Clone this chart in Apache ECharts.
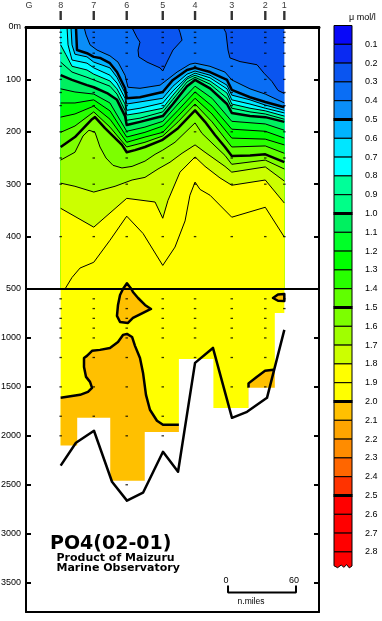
<!DOCTYPE html>
<html>
<head>
<meta charset="utf-8">
<script src="https://cdn.jsdelivr.net/npm/echarts@6.0.0/dist/echarts.min.js"></script>
<style>
html,body{margin:0;padding:0;background:#fff;}
#chart{width:382px;height:621px;}
</style>
</head>
<body>
<div id="chart"></div>
<script>
// ---------------- DATA (distance in n.miles from left frame, depth in m) ----------------
const stationNames = ['8', '7', '6', '5', '4', '3', '2', '1'];
const stationNm = [30.6, 59.8, 88.9, 120.7, 149.2, 181.6, 211.2, 228.0];
const coastName = 'G';
const coastNm = 2.6;
const stationMaxDepth = [2100, 1816, 2460, 1960, 1215, 1715, 1510, 745];
const upperSampleDepths = [10, 20, 30, 50, 75, 100, 125, 150, 200, 250, 300, 400];
const lowerSampleDepths = [600, 700, 800, 900, 1000, 1200, 1500, 1800, 2000, 2500];
const upperDepthTicks = [0, 100, 200, 300, 400, 500];
const lowerDepthTicks = [1000, 1500, 2000, 2500, 3000, 3500];
const scaleBarNm = [0, 60];

// colour scale (PO4, umol/l)
const bandLow = [0.0, 0.1, 0.2, 0.3, 0.4, 0.5, 0.6, 0.7, 0.8, 0.9, 1.0, 1.1, 1.2, 1.3, 1.4,
                 1.5, 1.6, 1.7, 1.8, 1.9, 2.0, 2.1, 2.2, 2.3, 2.4, 2.5, 2.6, 2.7, 2.8];
const bandColor = ['#0808F8', '#0A2AF2', '#0A55F0', '#0A6EF5', '#0A8EF8', '#00B4FF', '#00E6FF',
                   '#00FFFF', '#00FF99', '#00FF88', '#00F060', '#00FF28', '#00FF00', '#28FF00',
                   '#60FF00', '#7CFF00', '#A0FF00', '#CCFF00', '#FFFF00', '#FFFF00', '#FFC000',
                   '#FFA500', '#FF8C00', '#FF6600', '#FF3300', '#FF0000', '#FF0000', '#FF0000', '#FF0000'];
const thickLevels = [0.5, 1.0, 1.5, 2.0, 2.5];

// isolines of the upper (0-500 m) section: [distance, depth]
const isoLevels = [0.3, 0.4, 0.5, 0.6, 0.7, 0.8, 0.9, 1.0, 1.1, 1.2, 1.3, 1.4, 1.5, 1.6, 1.7, 1.8, 1.9];
const iso03 = [[30.6,0],[93.3,0],[97.7,19],[100.6,29],[98.9,44],[99.5,57],[106.8,67],[118.3,78],[120.7,84],[124.4,67],[129.7,44],[137.7,25],[135.9,10],[134.2,0],[173.9,0],[176.5,11],[178.3,44],[180.0,59],[188.9,66],[203.9,72],[210.0,88],[217.1,104],[222.4,121],[228.0,127]];
const iso04 = [[30.6,0],[51.2,0],[53.0,15],[56.5,34],[62.7,44],[74.1,55],[81.2,67],[87.4,92],[90.0,115],[100.6,117],[118.3,111],[124.4,101],[133.3,86],[144.7,71],[149.2,69],[162.4,75],[175.6,86],[181.6,101],[197.7,118],[211.2,128],[228.0,145]];
const iso05 = [[30.6,0],[44.1,0],[45.0,44],[53.8,50],[59.8,57],[65.3,59],[74.1,69],[80.3,86],[87.4,117],[88.9,136],[100.6,134],[120.7,124],[129.7,101],[142.1,82],[149.2,78],[162.4,86],[177.4,101],[181.6,120],[197.7,134],[211.2,143],[228.0,153]];
const iso06 = [[30.6,0],[39.7,0],[40.6,34],[43.2,52],[53.8,57],[59.8,67],[74.1,78],[80.3,96],[87.4,126],[88.9,147],[100.6,143],[120.7,136],[129.7,113],[142.1,90],[149.2,84],[162.4,92],[177.4,111],[181.6,130],[197.7,139],[211.2,149],[228.0,159]];
const iso07 = [[30.6,0],[36.2,0],[37.1,34],[40.6,63],[53.8,69],[59.8,78],[74.1,92],[80.3,107],[87.4,136],[88.9,159],[100.6,155],[120.7,145],[129.7,122],[142.1,96],[149.2,88],[162.4,97],[177.4,118],[181.6,139],[197.7,147],[211.2,155],[228.0,164]];
const iso08 = [[30.6,34],[35.3,53],[40.6,75],[53.8,82],[59.8,90],[74.1,103],[80.3,118],[87.4,147],[88.9,168],[100.6,164],[120.7,155],[129.7,130],[142.1,99],[149.2,92],[162.4,103],[177.4,126],[181.6,147],[197.7,155],[211.2,160],[228.0,170]];
const iso09 = [[30.6,67],[40.6,86],[53.8,96],[59.8,101],[74.1,113],[80.3,128],[87.4,159],[88.9,178],[100.6,174],[120.7,162],[129.7,138],[142.1,105],[149.2,96],[162.4,109],[177.4,136],[181.6,155],[197.7,162],[211.2,166],[228.0,176]];
const iso10 = [[30.6,92],[40.6,101],[53.8,111],[59.8,115],[71.5,126],[80.3,139],[87.4,170],[88.9,187],[100.6,181],[120.7,170],[129.7,147],[142.1,113],[149.2,101],[162.4,117],[177.4,147],[181.6,164],[197.7,170],[211.2,172],[228.0,181]];
const iso11 = [[30.6,118],[43.2,124],[59.8,128],[74.1,145],[88.9,199],[105.0,191],[120.7,180],[134.2,147],[149.2,113],[164.2,136],[181.6,180],[211.2,185],[228.0,197]];
const iso12 = [[30.6,145],[43.2,145],[59.8,139],[74.1,160],[88.9,210],[105.0,201],[120.7,189],[134.2,159],[149.2,124],[164.2,151],[181.6,195],[211.2,199],[228.0,212]];
const iso13 = [[30.6,172],[43.2,166],[59.8,151],[74.1,176],[88.9,220],[105.0,210],[120.7,201],[134.2,170],[149.2,136],[164.2,166],[181.6,212],[211.2,214],[228.0,225]];
const iso14 = [[30.6,201],[43.2,189],[59.8,162],[74.1,191],[88.9,229],[105.0,220],[120.7,208],[134.2,181],[149.2,147],[164.2,181],[181.6,229],[211.2,227],[228.0,241]];
const iso15 = [[30.6,229],[43.2,210],[58.3,176],[60.9,172],[69.7,193],[84.7,225],[88.9,239],[96.2,235],[105.0,229],[120.0,216],[134.2,193],[149.2,159],[158.0,181],[166.8,206],[175.6,229],[181.6,246],[197.7,245],[211.2,243],[228.0,258]];
const iso16 = [[30.6,254],[43.2,239],[50.3,208],[55.6,197],[60.9,201],[65.3,229],[70.6,250],[76.8,264],[84.7,269],[93.6,266],[105.0,256],[113.9,243],[120.7,235],[131.5,220],[149.2,183],[155.3,203],[166.8,227],[175.6,245],[181.6,262],[211.2,254],[228.0,271]];
const iso17 = [[30.6,298],[43.2,304],[59.8,315],[78.6,304],[93.6,292],[105.0,287],[116.5,271],[127.1,258],[137.7,241],[149.2,225],[158.0,239],[175.6,266],[181.6,277],[211.2,267],[228.0,294]];
const iso18 = [[30.6,346],[59.8,382],[88.9,327],[113.9,334],[120.7,365],[125.3,331],[135.9,277],[149.2,248],[158.0,266],[171.2,288],[181.6,302],[211.2,292],[228.0,336]];
const iso19 = [[34.4,500],[40.6,478],[47.7,460],[59.8,449],[74.1,407],[88.9,361],[103.3,394],[120.7,455],[131.5,420],[140.4,370],[144.7,321],[149.2,296],[153.6,310],[162.4,321],[181.6,363],[211.2,344],[228.0,401]];

// 2.0 contours of the deep section
const blobMain = [[30.6,1612],[47.7,1581],[54.7,1551],[58.3,1510],[56.5,1449],[53.0,1398],[51.2,1296],[51.2,1204],[53.8,1183],[58.3,1132],[65.3,1122],[74.1,1102],[81.2,1041],[85.6,969],[89.1,959],[93.6,990],[96.2,1081],[100.6,1204],[103.3,1357],[105.9,1581],[109.4,1734],[115.6,1846],[120.9,1887],[135.9,1887]];
const blobSt6 = [[89.1,489],[93.0,500],[94.4,531],[98.9,592],[105.0,663],[110.3,704],[103.3,745],[94.4,796],[90.0,847],[83.0,837],[80.3,775],[81.2,663],[83.0,561],[85.6,500]];
const blobSt1 = [[228.0,551],[222.4,556],[218.0,592],[222.4,620],[228.0,623]];
const blobSt2 = [[196.4,1510],[196.4,1464],[203.6,1398],[211.0,1336],[218.3,1326],[220.7,1336]];
const bottomLine = [[30.6,2305],[44.1,2071],[60.0,1948],[75.9,2469],[89.1,2662],[103.3,2581],[120.9,2163],[134.2,2367],[149.2,1255],[165.0,1102],[181.8,1816],[195.1,1755],[212.7,1612],[228.0,918]];

// ---------------- BUILD ----------------
const isoLines = [iso03, iso04, iso05, iso06, iso07, iso08, iso09, iso10, iso11, iso12, iso13, iso14, iso15, iso16, iso17, iso18, iso19];
const SPLIT = 500, BOTTOM = 3800, XMAX = 258.6;
const xL = stationNm[0], xR = stationNm[stationNm.length - 1];
const colorOf = v => bandColor[Math.round(v * 10)];
const isThick = v => thickLevels.some(t => Math.abs(t - v) < 1e-6);

const upperItems = [];
upperItems.push({ t: 'fill', pts: [[xL, 0], [xR, 0], [xR, SPLIT], [xL, SPLIT]], fill: bandColor[Math.round(isoLevels[0] * 10) - 1] });
isoLevels.forEach((lv, k) => upperItems.push({ t: 'fill', pts: isoLines[k].concat([[xR, SPLIT], [xL, SPLIT]]), fill: colorOf(lv) }));
isoLevels.forEach((lv, k) => upperItems.push({ t: 'line', pts: isoLines[k], w: isThick(lv) ? 2.5 : 1 }));
upperItems.push({ t: 'fill', pts: blobSt6, fill: colorOf(2.0), stroke: '#000', w: 2.5 });

const lowerItems = [];
lowerItems.push({ t: 'fill', pts: [[xL, SPLIT], [xR, SPLIT], [xR, BOTTOM], [xL, BOTTOM]], fill: colorOf(1.9) });
lowerItems.push({ t: 'fill', pts: blobMain.concat([[blobMain[blobMain.length - 1][0], BOTTOM], [xL, BOTTOM]]), fill: colorOf(2.0) });
lowerItems.push({ t: 'fill', pts: blobSt2.concat([[blobSt2[blobSt2.length - 1][0], BOTTOM], [blobSt2[0][0], BOTTOM]]), fill: colorOf(2.0) });
lowerItems.push({ t: 'fill', pts: blobSt6, fill: colorOf(2.0), stroke: '#000', w: 2.5 });
lowerItems.push({ t: 'fill', pts: blobSt1, fill: colorOf(2.0), stroke: '#000', w: 2.5 });
lowerItems.push({ t: 'line', pts: blobMain, w: 2.5 });
lowerItems.push({ t: 'line', pts: blobSt2, w: 2.5 });
// no-data mask below deepest sample of each station column
const edges = [xL - 1];
for (let i = 1; i < stationNm.length; i++) edges.push((stationNm[i - 1] + stationNm[i]) / 2);
edges.push(xR + 1);
const mask = [[xL - 1, BOTTOM + 10]];
stationMaxDepth.forEach((d, i) => { mask.push([edges[i], d]); mask.push([edges[i + 1], d]); });
mask.push([xR + 1, BOTTOM + 10]);
lowerItems.push({ t: 'fill', pts: mask, fill: '#ffffff' });
lowerItems.push({ t: 'line', pts: bottomLine, w: 2.5 });

function renderFrom(items) {
  return function (params, api) {
    const it = items[params.dataIndex];
    const pts = it.pts.map(p => api.coord(p));
    if (it.t === 'fill') {
      return { type: 'polygon', shape: { points: pts },
        style: { fill: it.fill, stroke: it.stroke || null, lineWidth: it.w || 0, lineJoin: 'round' } };
    }
    return { type: 'polyline', shape: { points: pts },
      style: { fill: null, stroke: '#000', lineWidth: it.w, lineJoin: 'round' } };
  };
}

// colour bar items
const cbItems = bandLow.map((lo, i) => ({ lo: lo, hi: i + 1 < bandLow.length ? bandLow[i + 1] : null, color: bandColor[i] }));
function renderColorbar(params, api) {
  const it = cbItems[params.dataIndex];
  const children = [];
  if (it.hi !== null) {
    const a = api.coord([0, it.lo]), b = api.coord([1, it.hi]);
    children.push({ type: 'rect', shape: { x: a[0], y: a[1], width: b[0] - a[0], height: b[1] - a[1] },
      style: { fill: it.color, stroke: '#000', lineWidth: 1 } });
  } else {
    const wave = [[1, it.lo + 0.075], [0.85, it.lo + 0.085], [0.7, it.lo + 0.068], [0.55, it.lo + 0.082], [0.4, it.lo + 0.07], [0.2, it.lo + 0.084], [0, it.lo + 0.074]];
    const pts = [[0, it.lo], [1, it.lo]].concat(wave).map(p => api.coord(p));
    children.push({ type: 'polygon', shape: { points: pts }, style: { fill: it.color, stroke: '#000', lineWidth: 1 } });
  }
  if (isThick(it.lo)) {
    const a = api.coord([0, it.lo]), b = api.coord([1, it.lo]);
    children.push({ type: 'line', shape: { x1: a[0] - 0.5, y1: a[1], x2: b[0] + 0.5, y2: b[1] }, style: { stroke: '#000', lineWidth: 3 } });
  }
  return { type: 'group', children: children };
}

// sample dots
const upperDots = [], lowerDots = [];
stationNm.forEach((x, i) => {
  upperSampleDepths.forEach(d => upperDots.push([x, d]));
  lowerSampleDepths.forEach(d => { if (d <= stationMaxDepth[i] + 40) lowerDots.push([x, d]); });
});

const stationPts = stationNm.map((x, i) => ({ name: stationNames[i], value: [x, 0.5] }));
stationPts.unshift({ name: coastName, value: [coastNm, 0.5], itemStyle: { color: 'rgba(0,0,0,0)' } });

const sbX = 178.3, sbTop = 3530, sbBase = 3600;
const scaleBarData = [[sbX + scaleBarNm[0], sbTop], [sbX + scaleBarNm[0], sbBase], [sbX + scaleBarNm[1], sbBase], [sbX + scaleBarNm[1], sbTop]];

const FONT = 'Liberation Sans';
const axLine = { show: true, onZero: false, lineStyle: { color: '#000', width: 2 } };
const axLineTop = { show: true, onZero: false, lineStyle: { color: '#000', width: 3 } };
const noSplit = { show: false };
const G = { outerBoundsMode: 'none', containLabel: false };

const chart = echarts.init(document.getElementById('chart'), null, { renderer: 'canvas' });
chart.setOption({
  animation: false,
  backgroundColor: '#ffffff',
  textStyle: { fontFamily: FONT },
  grid: [
    Object.assign({ left: 26, top: 27, width: 293, height: 262 }, G),
    Object.assign({ left: 26, top: 289, width: 293, height: 323 }, G),
    Object.assign({ left: 334, top: 25.5, width: 18, height: 545.2 }, G),
    Object.assign({ left: 26, top: 11, width: 293, height: 9 }, G)
  ],
  xAxis: [
    { gridIndex: 0, type: 'value', min: 0, max: XMAX, position: 'top', axisLine: axLineTop, axisTick: { show: false }, axisLabel: { show: false }, splitLine: noSplit, z: 10 },
    { gridIndex: 0, type: 'value', min: 0, max: XMAX, position: 'bottom', axisLine: axLine, axisTick: { show: false }, axisLabel: { show: false }, splitLine: noSplit, z: 10 },
    { gridIndex: 1, type: 'value', min: 0, max: XMAX, position: 'bottom', axisLine: axLine, axisTick: { show: false }, axisLabel: { show: false }, splitLine: noSplit, z: 10 },
    { gridIndex: 2, type: 'value', min: 0, max: 1, show: false },
    { gridIndex: 3, type: 'value', min: 0, max: XMAX, show: false }
  ],
  yAxis: [
    { gridIndex: 0, type: 'value', inverse: true, min: 0, max: SPLIT, interval: 100, position: 'left', axisLine: axLine,
      axisTick: { show: true, inside: true, length: 5, customValues: upperDepthTicks, lineStyle: { color: '#000', width: 2 } },
      axisLabel: { customValues: upperDepthTicks, formatter: v => (v === 0 ? '0m' : String(v)), color: '#000', fontSize: 9, margin: 5, fontFamily: FONT },
      splitLine: noSplit, z: 10 },
    { gridIndex: 0, type: 'value', inverse: true, min: 0, max: SPLIT, interval: 100, position: 'right', axisLine: axLine,
      axisTick: { show: true, inside: true, length: 5, customValues: upperDepthTicks, lineStyle: { color: '#000', width: 2 } },
      axisLabel: { show: false }, splitLine: noSplit, z: 10 },
    { gridIndex: 1, type: 'value', inverse: true, min: SPLIT, max: BOTTOM, interval: 500, position: 'left', axisLine: axLine,
      axisTick: { show: true, inside: true, length: 5, customValues: lowerDepthTicks, lineStyle: { color: '#000', width: 2 } },
      axisLabel: { customValues: lowerDepthTicks, formatter: v => String(v), color: '#000', fontSize: 9, margin: 5, fontFamily: FONT },
      splitLine: noSplit, z: 10 },
    { gridIndex: 1, type: 'value', inverse: true, min: SPLIT, max: BOTTOM, interval: 500, position: 'right', axisLine: axLine,
      axisTick: { show: true, inside: true, length: 5, customValues: lowerDepthTicks, lineStyle: { color: '#000', width: 2 } },
      axisLabel: { show: false }, splitLine: noSplit, z: 10 },
    { gridIndex: 2, type: 'value', inverse: true, min: 0, max: 2.9, position: 'right', axisLine: { show: false }, axisTick: { show: false },
      axisLabel: { customValues: bandLow.slice(1), formatter: v => v.toFixed(1), color: '#000', fontSize: 9, margin: 13, fontFamily: FONT },
      splitLine: noSplit },
    { gridIndex: 3, type: 'value', min: 0, max: 1, show: false }
  ],
  series: [
    { type: 'custom', name: 'upper', xAxisIndex: 0, yAxisIndex: 0, clip: true, silent: true, z: 2,
      data: upperItems.map(() => [0, 0]), renderItem: renderFrom(upperItems) },
    { type: 'custom', name: 'lower', xAxisIndex: 2, yAxisIndex: 2, clip: true, silent: true, z: 2,
      data: lowerItems.map(() => [0, SPLIT]), renderItem: renderFrom(lowerItems) },
    { type: 'scatter', name: 'samplesUpper', xAxisIndex: 0, yAxisIndex: 0, symbol: 'rect', symbolSize: [2.5, 1.3], silent: true, z: 4,
      itemStyle: { color: '#000' }, data: upperDots },
    { type: 'scatter', name: 'samplesLower', xAxisIndex: 2, yAxisIndex: 2, symbol: 'rect', symbolSize: [2.5, 1.3], silent: true, z: 4,
      itemStyle: { color: '#000' }, data: lowerDots },
    { type: 'line', name: 'scale', xAxisIndex: 2, yAxisIndex: 2, data: scaleBarData, symbol: 'none', clip: false, silent: true, z: 5,
      lineStyle: { color: '#000', width: 2 } },
    { type: 'custom', name: 'colorbar', xAxisIndex: 3, yAxisIndex: 4, silent: true,
      data: cbItems.map(it => [0.5, it.lo]), renderItem: renderColorbar },
    { type: 'scatter', name: 'stations', xAxisIndex: 4, yAxisIndex: 5, symbol: 'rect', symbolSize: [2.4, 9], silent: true,
      itemStyle: { color: '#000' }, data: stationPts,
      label: { show: true, position: 'top', distance: 1, formatter: '{b}', color: '#000', fontSize: 9, fontFamily: FONT } }
  ],
  graphic: {
    elements: [
      { type: 'text', z: 100, x: 50, y: 544, style: { text: 'PO4(02-01)', font: 'bold 19px "DejaVu Sans"', fill: '#000', verticalAlign: 'middle' } },
      { type: 'text', z: 100, x: 56.5, y: 558, style: { text: 'Product of Maizuru', font: 'bold 11px "DejaVu Sans"', fill: '#000', verticalAlign: 'middle' } },
      { type: 'text', z: 100, x: 56.5, y: 568, style: { text: 'Marine Observatory', font: 'bold 11px "DejaVu Sans"', fill: '#000', verticalAlign: 'middle' } },
      { type: 'text', z: 100, x: 226, y: 581, style: { text: '0', font: '9px "Liberation Sans"', fill: '#000', align: 'center', verticalAlign: 'middle' } },
      { type: 'text', z: 100, x: 294, y: 581, style: { text: '60', font: '9px "Liberation Sans"', fill: '#000', align: 'center', verticalAlign: 'middle' } },
      { type: 'text', z: 100, x: 251, y: 602, style: { text: 'n.miles', font: '8.5px "Liberation Sans"', fill: '#000', align: 'center', verticalAlign: 'middle' } },
      { type: 'text', z: 100, x: 349, y: 18, style: { text: 'μ mol/l', font: '9px "Liberation Sans"', fill: '#000', verticalAlign: 'middle' } }
    ]
  }
});
</script>
</body>
</html>
